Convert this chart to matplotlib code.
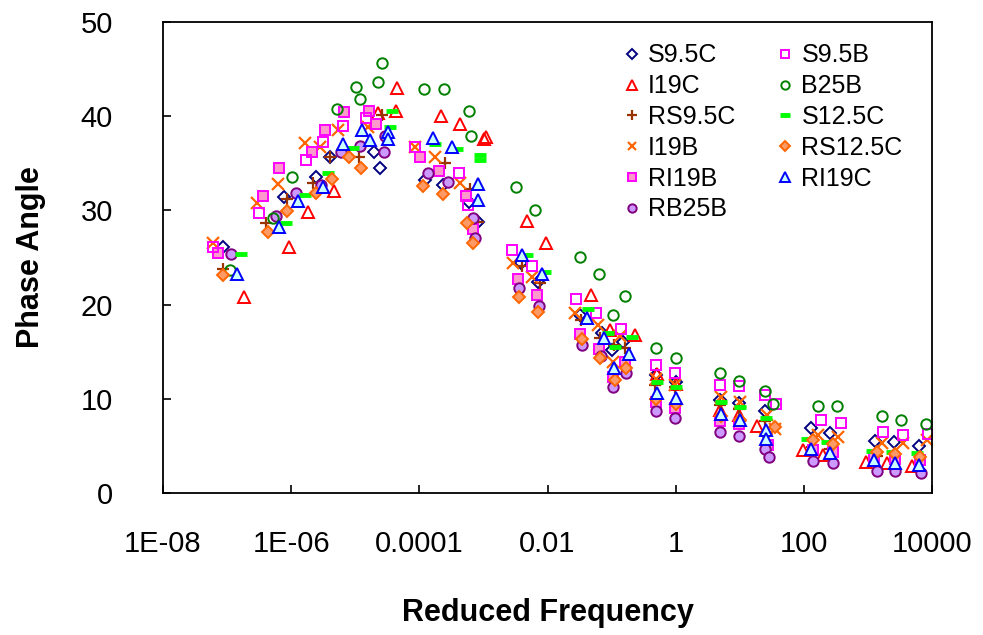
import matplotlib
matplotlib.use("Agg")
import matplotlib.pyplot as plt

plt.rcParams['font.family'] = ['Liberation Sans', 'DejaVu Sans']

# ---------------- data (reduced frequency, phase angle) ----------------
s95c_f = [8.6e-8, 7.7e-7, 2.4e-6, 4.0e-6, 1.96e-5, 2.4e-5, 1.22e-4, 2.3e-4, 5.9e-4, 8.2e-4,
          3.8e-3, 7.1e-3, 3.2e-2, 7.1e-2, 0.15, 0.10, 0.49, 1.0, 4.9, 9.7, 24.7, 129, 255,
          1280, 2530, 6220]
s95c_y = [26.1, 31.4, 33.5, 35.7, 36.2, 34.5, 33.2, 32.7, 30.9, 28.8,
          24.4, 22.4, 18.9, 17.0, 16.0, 15.2, 12.5, 11.8, 9.9, 9.6, 8.7, 6.9, 6.4,
          5.5, 5.4, 5.0]

i19c_f = [1.83e-7, 9.2e-7, 1.83e-6, 4.7e-6, 2.3e-5, 4.3e-5, 4.5e-5, 2.2e-4, 4.3e-4, 1.02e-3,
          1.09e-3, 4.8e-3, 9.4e-3, 4.8e-2, 9.4e-2, 0.23, 0.51, 1.0, 4.9, 9.7, 18.5, 96, 198,
          927, 1970, 4840]
i19c_y = [20.8, 26.1, 29.8, 32.1, 40.3, 40.6, 43.0, 40.0, 39.2, 37.6,
          37.8, 28.9, 26.5, 21.0, 17.3, 16.8, 12.6, 11.6, 8.8, 8.3, 7.1, 4.6, 4.0,
          3.3, 3.2, 2.9]

rs95c_f = [8.6e-8, 4.0e-7, 8.6e-7, 2.2e-6, 4.0e-6, 1.14e-5, 2.6e-5, 2.5e-4, 6.2e-4, 8.2e-4,
           4.0e-3, 7.6e-3, 3.3e-2, 6.6e-2, 0.109, 0.16, 0.47, 0.97, 4.9, 9.7, 25, 133, 255,
           1380, 2630, 6450]
rs95c_y = [23.8, 28.7, 31.2, 32.9, 35.7, 35.7, 40.1, 35.0, 32.3, 28.8,
           24.1, 22.3, 18.4, 16.5, 15.7, 15.4, 11.5, 11.3, 9.3, 8.9, 7.6, 4.9, 4.7,
           3.9, 3.7, 3.4]

i19b_f = [6.0e-8, 2.9e-7, 6.2e-7, 1.64e-6, 2.8e-6, 5.4e-6, 1.58e-5, 8.5e-5, 1.75e-4, 4.3e-4,
          2.9e-3, 5.7e-3, 2.7e-2, 6.1e-2, 0.135, 0.105, 0.49, 0.97, 5.1, 10, 26.5, 35, 165, 339,
          1650, 3500, 8300]
i19b_y = [26.5, 30.8, 32.8, 37.2, 36.7, 38.5, 38.9, 36.7, 35.7, 32.9,
          24.4, 22.9, 19.1, 17.8, 16.7, 13.9, 12.1, 11.5, 10.2, 9.7, 8.3, 6.8, 6.2, 5.9,
          5.3, 5.3, 5.6]

ri19b_f = [7.2e-8, 3.6e-7, 6.5e-7, 2.1e-6, 3.4e-6, 6.7e-6, 1.64e-5, 2.1e-5, 1.02e-4, 2.0e-4,
           5.3e-4, 6.9e-4, 3.5e-3, 6.8e-3, 3.2e-2, 6.3e-2, 0.16, 0.105, 0.49, 0.97, 4.9, 9.7,
           27.4, 138, 283, 1240, 2630, 6450]
ri19b_y = [25.5, 31.5, 34.5, 36.2, 38.5, 40.4, 40.6, 39.2, 35.7, 34.2,
           31.5, 28.0, 22.7, 21.0, 16.9, 15.3, 13.9, 12.3, 9.7, 9.0, 7.6, 7.3,
           5.1, 4.6, 4.4, 3.8, 3.6, 3.5]

rb25b_f = [1.15e-7, 5.8e-7, 1.19e-6, 2.9e-6, 6.0e-6, 1.18e-5, 2.8e-5, 2.9e-5, 1.36e-4, 2.8e-4,
           6.9e-4, 7.4e-4, 3.6e-3, 7.3e-3, 3.4e-2, 6.8e-2, 0.17, 0.105, 0.49, 0.97, 4.9, 9.7,
           24.7, 28.4, 138, 283, 1380, 2630, 6690]
rb25b_y = [25.4, 29.4, 31.8, 32.7, 36.2, 36.8, 36.2, 37.9, 34.0, 33.0,
           29.2, 27.1, 21.8, 19.9, 15.7, 14.5, 12.7, 11.2, 8.7, 8.0, 6.5, 6.1,
           4.7, 3.8, 3.4, 3.2, 2.3, 2.3, 2.1]

s95b_f = [6.0e-8, 3.2e-7, 1.7e-6, 3.1e-6, 6.4e-6, 1.47e-5, 8.5e-5, 4.2e-4, 5.7e-4,
          2.8e-3, 5.7e-3, 2.8e-2, 5.7e-2, 0.14, 0.49, 0.97, 4.9, 9.7, 24.7, 36.6, 184, 378,
          1710, 3500, 8600]
s95b_y = [26.1, 29.7, 35.4, 37.3, 39.0, 39.8, 36.7, 34.0, 30.6,
          25.8, 24.1, 20.6, 19.1, 17.4, 13.6, 12.7, 11.5, 11.4, 10.4, 9.4, 7.7, 7.4,
          6.5, 6.2, 6.3]

b25b_f = [1.12e-7, 5.2e-7, 1.03e-6, 5.2e-6, 1.03e-5, 1.18e-5, 2.3e-5, 2.6e-5, 1.18e-4, 2.4e-4,
          5.9e-4, 6.4e-4, 3.2e-3, 6.4e-3, 3.2e-2, 6.3e-2, 0.16, 0.105, 0.49, 1.0, 4.9, 9.7,
          24.7, 33, 165, 327, 1650, 3260, 8000]
b25b_y = [23.7, 29.2, 33.5, 40.8, 43.1, 41.8, 43.6, 45.6, 42.9, 42.9,
          40.5, 37.9, 32.5, 30.0, 25.1, 23.2, 20.9, 18.9, 15.4, 14.3, 12.7, 11.9,
          10.8, 9.4, 9.2, 9.2, 8.2, 7.7, 7.3]

s125c_f = [1.65e-7, 8.3e-7, 1.64e-6, 3.7e-6, 9.1e-6, 3.5e-5, 3.7e-5, 1.75e-4, 3.9e-4, 8.8e-4,
           8.8e-4, 4.8e-3, 9.1e-3, 4.3e-2, 8.8e-2, 0.21, 0.113, 0.51, 1.0, 5.1, 10, 25.6,
           111, 229, 1150, 2360, 5790]
s125c_y = [25.4, 28.7, 31.6, 34.0, 36.6, 38.9, 40.6, 37.0, 36.5, 35.9,
           35.4, 25.3, 23.5, 19.5, 17.0, 16.6, 15.5, 11.8, 11.3, 9.7, 9.1, 8.0,
           5.7, 5.4, 4.5, 4.3, 4.2]

rs125c_f = [8.6e-8, 4.3e-7, 8.6e-7, 2.4e-6, 4.3e-6, 8.0e-6, 1.23e-5, 1.14e-4, 2.3e-4, 5.5e-4,
            6.9e-4, 3.6e-3, 7.1e-3, 3.4e-2, 6.6e-2, 0.17, 0.113, 0.49, 1.0, 5.1, 10, 26, 35,
            140, 290, 1380, 2600, 6500]
rs125c_y = [23.1, 27.7, 29.9, 31.8, 33.3, 35.7, 34.5, 32.6, 31.7, 28.7,
            26.5, 20.8, 19.2, 16.3, 14.3, 13.3, 12.0, 10.0, 9.5, 8.2, 7.8, 6.3, 7.0,
            5.6, 5.2, 4.4, 4.1, 3.8]

ri19c_f = [1.42e-7, 6.5e-7, 1.28e-6, 3.1e-6, 6.4e-6, 1.27e-5, 1.7e-5, 3.2e-5, 3.2e-5, 1.63e-4,
           3.2e-4, 8.2e-4, 8.2e-4, 4.0e-3, 8.2e-3, 4.1e-2, 7.6e-2, 0.186, 0.109, 0.51, 1.0,
           5.1, 10, 25.6, 25.6, 129, 255, 1240, 2630, 6220]
ri19c_y = [23.2, 28.2, 31.0, 32.5, 37.0, 38.5, 37.5, 38.3, 37.6, 37.7,
           36.7, 32.8, 31.1, 25.3, 23.2, 18.6, 16.5, 14.8, 13.3, 10.6, 10.1,
           8.4, 7.7, 6.7, 5.7, 4.7, 4.2, 3.5, 3.2, 3.0]

xtick_vals = [1e-8, 1e-6, 1e-4, 1e-2, 1, 100, 10000]
xtick_labels = ['1E-08', '1E-06', '0.0001', '0.01', '1', '100', '10000']
ytick_vals = [0, 10, 20, 30, 40, 50]

# ---------------- figure ----------------
fig = plt.figure(figsize=(9.83, 6.35), dpi=100)
ax = fig.add_axes([163/983, 1-493/635, (932-163)/983, (493-22)/635])

mew = 1.4
series = [
    ('S9.5C', s95c_f, s95c_y, dict(marker='D', ms=6.0, mfc='none', mec='#000080')),
    ('I19C', i19c_f, i19c_y, dict(marker='^', ms=8.5, mfc='none', mec='#FF0000')),
    ('RS9.5C', rs95c_f, rs95c_y, dict(marker='+', ms=9, mec='#993300', mew=1.6)),
    ('I19B', i19b_f, i19b_y, dict(marker='x', ms=8, mec='#FF6600', mew=1.6)),
    ('RI19B', ri19b_f, ri19b_y, dict(marker='s', ms=7.5, mfc='#FF99CC', mec='#FF00FF')),
    ('RB25B', rb25b_f, rb25b_y, dict(marker='o', ms=7.5, mfc='#CC99FF', mec='#800080')),
    ('S9.5B', s95b_f, s95b_y, dict(marker='s', ms=7.5, mfc='none', mec='#FF00FF')),
    ('B25B', b25b_f, b25b_y, dict(marker='o', ms=7.5, mfc='none', mec='#008000')),
    ('S12.5C', s125c_f, s125c_y, dict(marker='_', ms=9, mec='#00FF00', mew=3.5)),
    ('RS12.5C', rs125c_f, rs125c_y, dict(marker='D', ms=6.0, mfc='#FF9966', mec='#FF6600')),
    ('RI19C', ri19c_f, ri19c_y, dict(marker='^', ms=8.5, mfc='#CCFFFF', mec='#0000FF')),
]

for name, fx, fy, st in series:
    kw = dict(mew=mew)
    kw.update(st)
    ax.plot(fx, fy, ls='none', label=name, **kw)

ax.set_xscale('log')
ax.set_xlim(1e-8, 1e4)
ax.set_ylim(0, 50)
ax.set_xticks(xtick_vals)
ax.set_xticklabels(xtick_labels)
ax.xaxis.set_minor_locator(matplotlib.ticker.NullLocator())
ax.set_yticks(ytick_vals)
ax.tick_params(axis='both', which='major', direction='in', length=6, width=1.2,
               labelsize=21, colors='black')
ax.tick_params(axis='x', pad=27)
ax.tick_params(axis='y', pad=36)
for sp in ax.spines.values():
    sp.set_linewidth(1.3)
    sp.set_color('black')

ax.set_xlabel('Reduced Frequency', fontsize=22, fontweight='bold')
ax.set_ylabel('Phase Angle', fontsize=22, fontweight='bold')
ax.xaxis.set_label_coords(0.5, (493-613)/471)
ax.xaxis.label.set_va('center')
ax.yaxis.set_label_coords((31-163)/769, 0.5)
ax.yaxis.label.set_va('center')

leg = ax.legend(ncol=2, loc='upper left', bbox_to_anchor=(609/983, 1-31/635),
                bbox_transform=fig.transFigure, frameon=False, fontsize=18,
                handlelength=0.8, handletextpad=0.25, columnspacing=1.6,
                labelspacing=0.27, borderpad=0, markerscale=0.8)

fig.savefig('out.png', dpi=100)
